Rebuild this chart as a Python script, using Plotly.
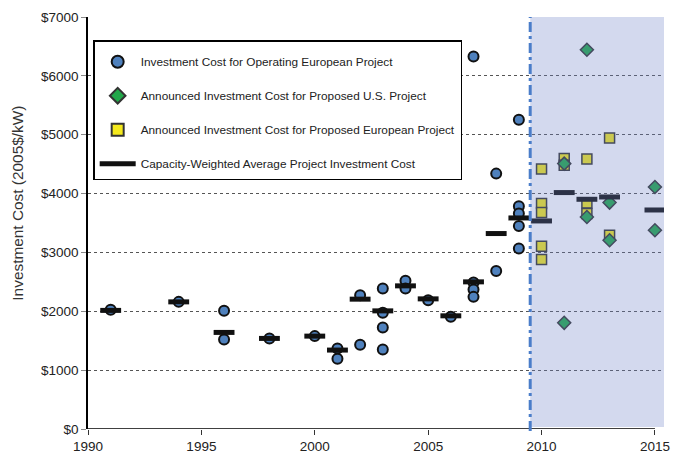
import plotly.graph_objects as go

# Investment cost for operating European projects (2005$/kW)
op_years = [1991, 1994, 1996, 1996, 1998, 2000, 2001, 2001, 2002, 2002,
            2003, 2003, 2003, 2003, 2004, 2004, 2005, 2006, 2007, 2007,
            2007, 2007, 2008, 2008, 2009, 2009, 2009, 2009, 2009]
op_costs = [2025, 2160, 2010, 1522, 1539, 1578, 1369, 1193, 2274, 1430,
            2388, 1974, 1726, 1352, 2517, 2388, 2189, 1906, 6330, 2489,
            2371, 2245, 4339, 2686, 5255, 3784, 3660, 3450, 3066]

# Announced cost for proposed U.S. projects
us_years = [2011, 2011, 2012, 2012, 2013, 2013, 2015, 2015]
us_costs = [4509, 1804, 6443, 3603, 3847, 3207, 4112, 3377]

# Announced cost for proposed European projects
eu_years = [2010, 2010, 2010, 2010, 2010, 2011, 2011, 2012, 2012, 2012, 2013, 2013]
eu_costs = [4417, 3830, 3677, 3105, 2880, 4594, 4480, 4587, 3840, 3660, 4943, 3292]

# Capacity-weighted average project cost per year
avg_years = [1991, 1994, 1996, 1998, 2000, 2001, 2002, 2003, 2004, 2005,
             2006, 2007, 2008, 2009, 2010, 2011, 2012, 2013, 2015]
avg_costs = [2015, 2160, 1641, 1539, 1578, 1341, 2206, 2007, 2432, 2211,
             1923, 2500, 3321, 3586, 3535, 4017, 3903, 3942, 3721]

x_ticks = [1990, 1995, 2000, 2005, 2010, 2015]
y_ticks = [0, 1000, 2000, 3000, 4000, 5000, 6000, 7000]

FONT = "Liberation Sans"
BLUE = "#4f81bd"
GREEN = "#22a84a"
YELLOW = "#f4e91d"
HALF = 0.46  # half width of an average bar, in years
PROPOSED_START = 2009.5
X_MAX = 2015.4

# average bars as short horizontal segments centred on each year
bar_x, bar_y = [], []
for yr, c in zip(avg_years, avg_costs):
    bar_x += [yr - HALF, yr + HALF, None]
    bar_y += [c, c, None]

fig = go.Figure()
fig.add_trace(go.Scatter(
    x=op_years, y=op_costs, mode="markers",
    name="Investment Cost for Operating European Project",
    legendgroup="a", legendrank=1,
    marker=dict(symbol="circle", size=10, color=BLUE,
                line=dict(color="#111111", width=2)),
))
fig.add_trace(go.Scatter(
    x=eu_years, y=eu_costs, mode="markers",
    name="Announced Investment Cost for Proposed European Project",
    legendgroup="c", legendrank=3,
    marker=dict(symbol="square", size=10, color=YELLOW,
                line=dict(color="#333333", width=1.5)),
))
fig.add_trace(go.Scatter(
    x=us_years, y=us_costs, mode="markers",
    name="Announced Investment Cost for Proposed U.S. Project",
    legendgroup="b", legendrank=2,
    marker=dict(symbol="diamond", size=10, color=GREEN,
                line=dict(color="#333333", width=1.5)),
))
fig.add_trace(go.Scatter(
    x=bar_x, y=bar_y, mode="lines",
    name="Capacity-Weighted Average Project Investment Cost",
    legendgroup="d", legendrank=4,
    line=dict(color="#111111", width=5),
))

shapes = [
    # x axis line ending at 2015
    dict(type="line", xref="x", yref="y", x0=x_ticks[0], x1=x_ticks[-1], y0=0, y1=0,
         line=dict(color="#000000", width=1.5), layer="above"),
    # shaded proposed-project period
    dict(type="rect", xref="x", yref="paper", x0=PROPOSED_START, x1=X_MAX, y0=0.005, y1=1,
         fillcolor="rgba(110,130,200,0.3)", line=dict(width=0), layer="above"),
    dict(type="line", xref="x", yref="paper", x0=PROPOSED_START, x1=PROPOSED_START, y0=-0.005, y1=1,
         line=dict(color="#4a7dc9", width=3, dash="10px,4px,3px,4px"), layer="above"),
]

fig.update_layout(
    width=673, height=461,
    margin=dict(l=88, r=9, t=17, b=32, autoexpand=False),
    paper_bgcolor="white", plot_bgcolor="white",
    font=dict(family=FONT, size=13.5, color="#222222"),
    showlegend=True,
    legend=dict(
        x=0.009, y=0.943, xanchor="left", yanchor="top",
        bgcolor="white", bordercolor="#000000", borderwidth=1.5,
        font=dict(family=FONT, size=11.8, color="#222222"),
        title=dict(text=" ", font=dict(size=4)),
        itemsizing="constant", itemwidth=36,
        tracegroupgap=15, traceorder="grouped",
    ),
    shapes=shapes,
    annotations=[dict(
        text="Investment Cost (2005$/kW)", textangle=-90,
        xref="paper", yref="paper", x=-0.1215, y=0.547,
        xanchor="center", yanchor="middle", showarrow=False,
        font=dict(family=FONT, size=15.4, color="#333333"),
    )],
)

fig.update_xaxes(
    range=[x_ticks[0], X_MAX], tickvals=x_ticks, ticktext=[str(t) for t in x_ticks],
    showgrid=False, zeroline=False, showline=False, automargin=False,
    ticks="outside", ticklen=5, tickcolor="#333333", tickwidth=1,
    tickfont=dict(family=FONT, size=13.5, color="#222222"),
)
fig.update_yaxes(
    range=[y_ticks[0], y_ticks[-1]], tickvals=y_ticks,
    ticktext=["$" + str(t) for t in y_ticks],
    showgrid=True, gridcolor="#555555", gridwidth=1, griddash="dot",
    zeroline=False, showline=True, linecolor="#000000", linewidth=1.5,
    automargin=False,
    ticks="outside", ticklen=5, tickcolor="#888888", tickwidth=1,
    tickfont=dict(family=FONT, size=13.5, color="#222222"),
)

fig.write_html("out.html")
